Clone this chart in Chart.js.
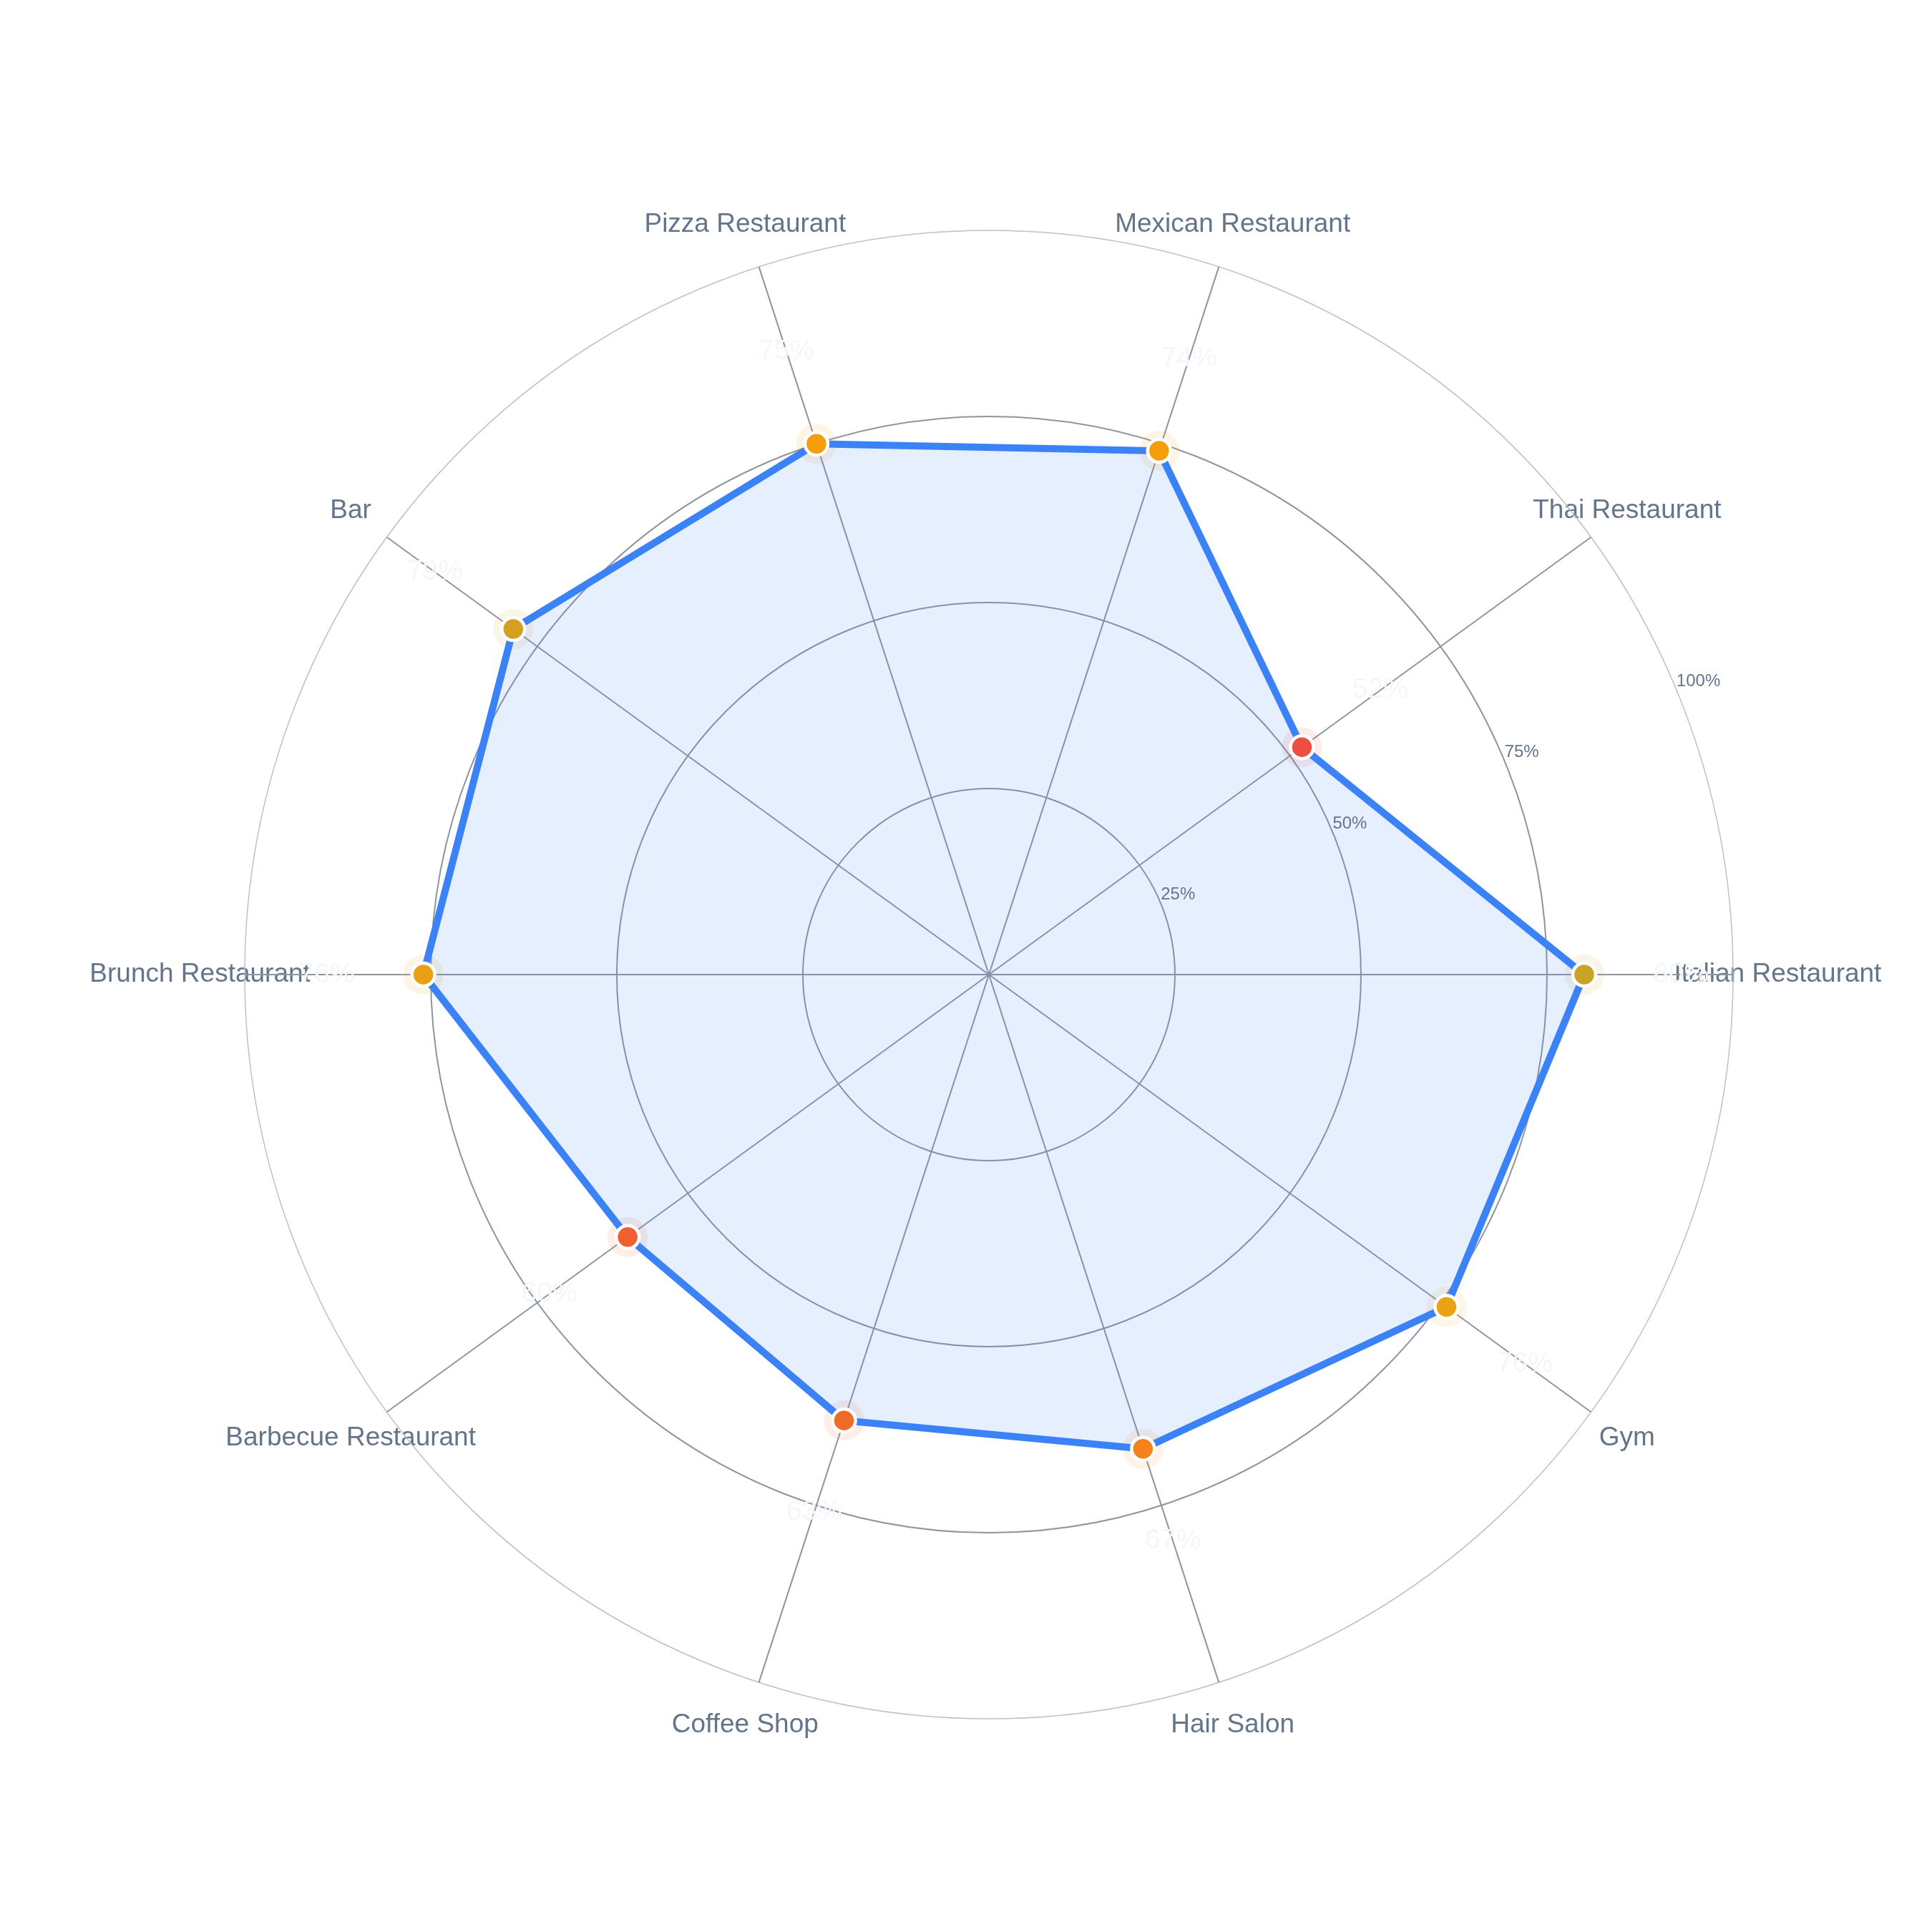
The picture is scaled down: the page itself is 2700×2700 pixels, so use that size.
<!DOCTYPE html>
<html>
<head>
<meta charset="utf-8">
<script src="https://cdn.jsdelivr.net/npm/chart.js@4.4.1/dist/chart.umd.min.js"></script>
<style>
  html, body { margin: 0; padding: 0; background: #fff; }
  #wrap { width: 2700px; height: 2700px; }
</style>
</head>
<body>
<div id="wrap"><canvas id="radar" width="2700" height="2700"></canvas></div>
<script>
// categories, read counterclockwise starting at 3 o'clock
const categories = ['Italian Restaurant', 'Thai Restaurant', 'Mexican Restaurant', 'Pizza Restaurant', 'Bar',
  'Brunch Restaurant', 'Barbecue Restaurant', 'Coffee Shop', 'Hair Salon', 'Gym'];
const values = [80, 52, 74, 75, 79, 76, 60, 63, 67, 76];
const pointColors = ['#C9A227', '#EF4E43', '#F59E0B', '#F59E0B', '#D4A020',
  '#E8A012', '#EE6030', '#F06B28', '#F4821F', '#E9A211'];
const tickValues = [25, 50, 75, 100];

const FONT = '"Liberation Sans", Arial, Helvetica, sans-serif';

// chart.js goes clockwise, so flip the order (keeping Italian first)
const idx = categories.map((_, i) => (categories.length - i) % categories.length);
const labels = idx.map(i => categories[i]);
const data = idx.map(i => values[i]);
const colors = idx.map(i => pointColors[i]);

function alpha(hex, a) {
  const n = parseInt(hex.slice(1), 16);
  return 'rgba(' + (n >> 16) + ',' + ((n >> 8) & 255) + ',' + (n & 255) + ',' + a + ')';
}

const textPlugin = {
  id: 'textPlugin',
  beforeDraw(chart) {
    const r = chart.scales.r;
    const ctx = chart.ctx;
    ctx.save();
    ctx.font = '37px ' + FONT;
    ctx.fillStyle = '#64748B';
    ctx.textAlign = 'center';
    ctx.textBaseline = 'middle';
    labels.forEach((lab, i) => {
      const p = r.getPointPositionForValue(i, 106);
      ctx.fillText(lab, p.x, p.y);
    });
    ctx.restore();
  },
  afterDraw(chart) {
    const r = chart.scales.r;
    const ctx = chart.ctx;
    ctx.save();
    // radial tick labels along 22.5 degrees
    const a = 22.5 * Math.PI / 180;
    ctx.font = '24px ' + FONT;
    ctx.fillStyle = '#64748B';
    ctx.textAlign = 'left';
    ctx.textBaseline = 'middle';
    tickValues.forEach(v => {
      const d = r.getDistanceFromCenterForValue(v);
      ctx.fillText(v + '%', r.xCenter + d * Math.cos(a), r.yCenter - d * Math.sin(a) - 12);
    });
    // faint value labels just outside each point
    ctx.font = '39px ' + FONT;
    ctx.fillStyle = '#F3F6FA';
    ctx.textAlign = 'center';
    data.forEach((v, i) => {
      const p = r.getPointPositionForValue(i, v + 13);
      ctx.fillText(v + '%', p.x, p.y);
    });
    ctx.restore();
  }
};

new Chart(document.getElementById('radar'), {
  type: 'radar',
  data: {
    labels: labels,
    datasets: [{
      label: 'Score',
      data: data,
      borderColor: '#3B82F6',
      borderWidth: 10,
      backgroundColor: 'rgba(59,130,246,0.13)',
      fill: true,
      pointRadius: 16,
      pointBorderWidth: 4.5,
      pointBorderColor: '#FFFFFF',
      pointBackgroundColor: colors,
      order: 1
    }, {
      label: 'halo',
      data: data,
      showLine: false,
      fill: false,
      borderColor: 'rgba(0,0,0,0)',
      pointRadius: 28,
      pointBorderWidth: 0,
      pointBackgroundColor: colors.map(c => alpha(c, 0.11)),
      order: 2
    }]
  },
  options: {
    responsive: false,
    devicePixelRatio: 1,
    animation: false,
    layout: { padding: { left: 342, right: 278, top: 322, bottom: 298 } },
    plugins: {
      legend: { display: false },
      tooltip: { enabled: false }
    },
    scales: {
      r: {
        min: 0,
        max: 100,
        startAngle: 90,
        ticks: { display: false, stepSize: 25 },
        pointLabels: { display: false },
        grid: {
          circular: true,
          color: c => c.tick && c.tick.value === 100 ? '#BCC1C8' : '#8E959F',
          lineWidth: c => c.tick && c.tick.value === 100 ? 1.5 : 2
        },
        angleLines: { display: true, color: '#8E959F', lineWidth: 2 }
      }
    }
  },
  plugins: [textPlugin]
});
</script>
</body>
</html>
